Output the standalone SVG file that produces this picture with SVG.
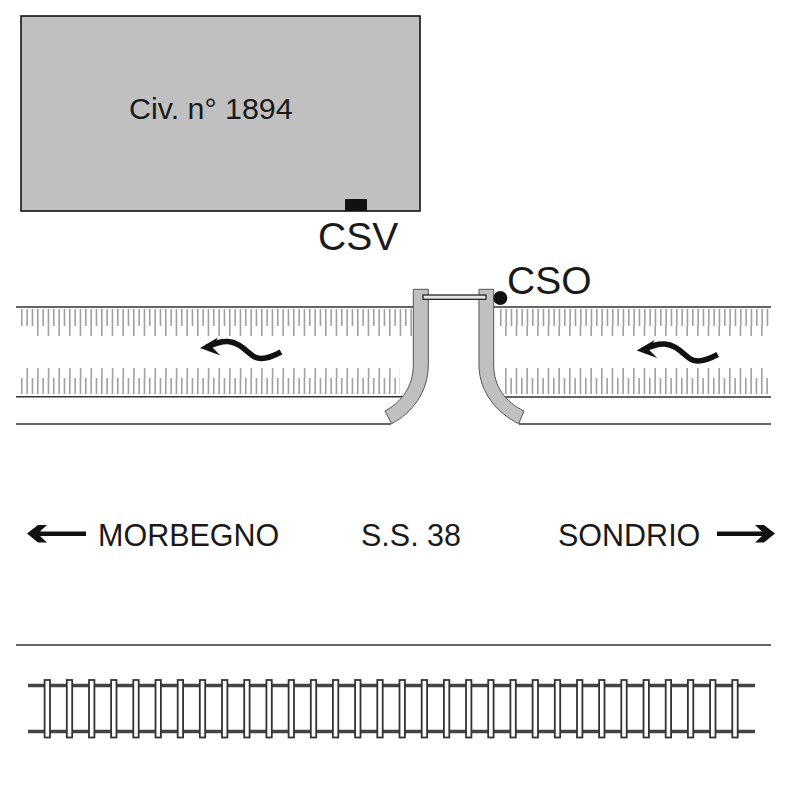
<svg xmlns="http://www.w3.org/2000/svg" width="787" height="787" viewBox="0 0 787 787">
<style>
text{font-family:"Liberation Sans",Arial,sans-serif;fill:#1a1a1a}
.ln{stroke:#333;stroke-width:1.6;fill:none}
.short{stroke:#a0a0a0;fill:none;stroke-dasharray:1.6 3.733}
.long{stroke:#a0a0a0;fill:none;stroke-dasharray:1.6 9.067}
.pier{fill:#c0c0c0;stroke:#555;stroke-width:1}
.rail{stroke:#444;stroke-width:3.6;fill:none}
.tie{fill:#fff;stroke:#333;stroke-width:1.8}
</style>
<defs>
<g id="wave">
<path d="M281 352C270 358 260 361 253 356C245 350 238 342 228 341.500C220 341 214 344 206 347.500" fill="none" stroke="#111" stroke-width="5.500"/>
<path d="M200 348L218 337.500L212 347L220.500 355.500Z" fill="#111"/>
</g>
<rect id="t" x="-2.700" y="680" width="5.400" height="57.500" class="tie"/>
</defs>
<g id="building">
<rect x="21" y="16" width="399" height="195" fill="#c0c0c0" stroke="#111" stroke-width="1.600"/>
<text x="129" y="119" font-size="30.400">Civ. n° 1894</text>
</g>
<g id="csv">
<rect x="345" y="199" width="22" height="12" fill="#111"/>
<text x="318" y="250" font-size="39">CSV</text>
</g>
<g id="road">
<path class="short" stroke-width="17" d="M21 317.500H413M500 317.500H771"/>
<path class="long" stroke-width="10" d="M37 331H413M505 331H771"/>
<path class="short" stroke-width="16" d="M21 386H400M505 386H771"/>
<path class="long" stroke-width="10" d="M26.500 373H400M505 373H771"/>
<path class="ln" d="M16 307H414M493 307H771M16 396.700H405M505 397H771M16 424H391M519 424H771M16 645H771"/>
<use href="#wave"/>
<use href="#wave" x="436.700" y="2.500"/>
</g>
<g id="junction">
<path class="pier" d="M413.300 289.300H428.300V365C428.300 392 412 413 391.700 423.700L385 411C402 402 413.300 386 413.300 365Z"/>
<path class="pier" d="M479 289.300H493.700V365C493.700 386 505 402 524 411L518.700 423.700C497 413 479 392 479 365Z"/>
<rect x="423" y="295" width="63" height="4.300" fill="#e8e8e8" stroke="#222" stroke-width="1.300"/>
</g>
<g id="cso">
<circle cx="500.300" cy="298" r="7" fill="#111"/>
<text x="507" y="294" font-size="39">CSO</text>
</g>
<g id="labels">
<text x="98" y="546" font-size="30.500">MORBEGNO</text>
<text x="361" y="546" font-size="30.500">S.S. 38</text>
<text x="558" y="546" font-size="30.500">SONDRIO</text>
<path d="M27 533.500L38 525H47L40 531.500H86V536H40L47 542.500H38Z" fill="#111"/>
<path d="M775 533.500L764 525H755L762 531.500H717V536H762L755 542.500H764Z" fill="#111"/>
</g>
<g id="railway">
<path class="rail" d="M28 685.500H755M28 731.500H755"/>
<use href="#t" x="47.300"/><use href="#t" x="69.500"/><use href="#t" x="91.700"/><use href="#t" x="113.800"/>
<use href="#t" x="136"/><use href="#t" x="158.200"/><use href="#t" x="180.400"/><use href="#t" x="202.500"/>
<use href="#t" x="224.700"/><use href="#t" x="246.900"/><use href="#t" x="269.100"/><use href="#t" x="291.300"/>
<use href="#t" x="313.500"/><use href="#t" x="335.600"/><use href="#t" x="357.800"/><use href="#t" x="380"/>
<use href="#t" x="402.200"/><use href="#t" x="424.400"/><use href="#t" x="446.600"/><use href="#t" x="468.700"/>
<use href="#t" x="490.900"/><use href="#t" x="513.100"/><use href="#t" x="535.300"/><use href="#t" x="557.500"/>
<use href="#t" x="579.700"/><use href="#t" x="601.800"/><use href="#t" x="624"/><use href="#t" x="646.200"/>
<use href="#t" x="668.400"/><use href="#t" x="690.600"/><use href="#t" x="712.800"/><use href="#t" x="735"/>
</g>
</svg>
